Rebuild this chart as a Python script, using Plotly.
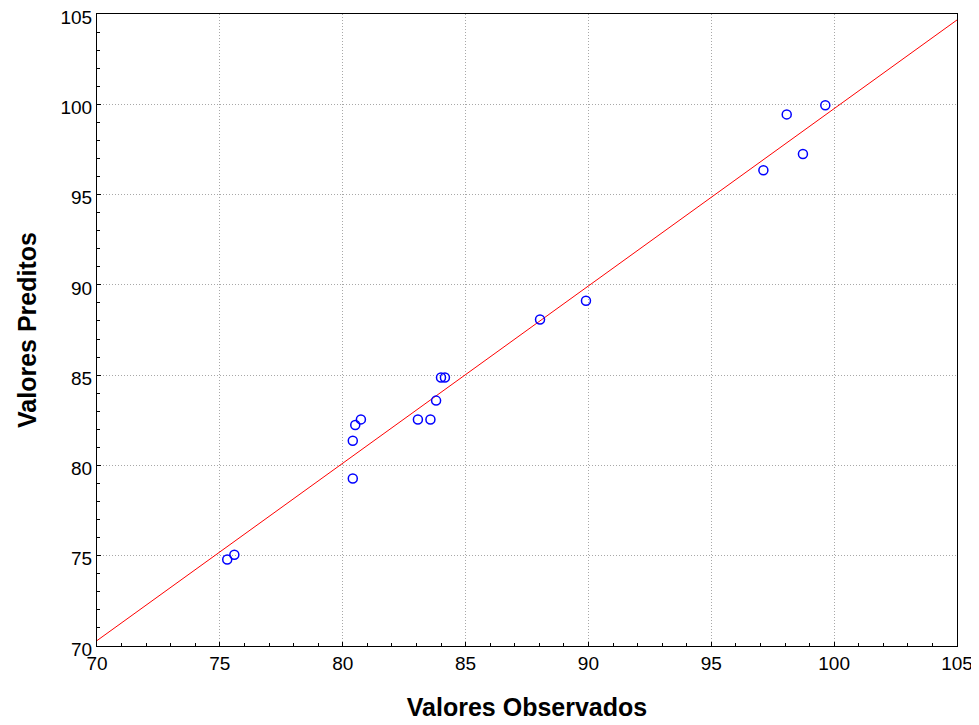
import plotly.graph_objects as go

observados = [75.30, 75.59, 80.41, 80.41, 80.51, 80.74, 83.06, 83.57, 83.80, 84.00, 84.16,
              88.03, 89.90, 97.12, 98.07, 98.73, 99.64]
preditos = [74.79, 75.05, 79.28, 81.37, 82.24, 82.55, 82.54, 82.54, 83.59, 84.87, 84.87,
            88.08, 89.12, 96.35, 99.44, 97.25, 99.95]

linha_x = [70, 105]
linha_y = [70.30, 104.67]

fig = go.Figure()
fig.add_trace(go.Scatter(
    x=linha_x, y=linha_y, mode="lines",
    line=dict(color="#ff0000", width=1), showlegend=False, hoverinfo="skip"))
fig.add_trace(go.Scatter(
    x=observados, y=preditos, mode="markers",
    marker=dict(symbol="circle-open", size=9, color="#0000ff", line=dict(width=1.5, color="#0000ff")),
    showlegend=False))

axis_common = dict(
    showline=True, linecolor="#000000", linewidth=1, mirror=True,
    showgrid=True, gridcolor="#a8a8a8", griddash="1px,2px", gridwidth=1,
    zeroline=False, automargin=False, ticklabeloverflow="allow",
    ticks="inside", ticklen=4, tickcolor="#000000",
    minor=dict(ticks="inside", ticklen=3, tickcolor="#000000", dtick=1, showgrid=False),
    tickfont=dict(family="Liberation Sans, Arial, sans-serif", size=19, color="#000000"),
    dtick=5,
)

fig.update_layout(
    width=971, height=717,
    margin=dict(l=89, r=22, t=6, b=79),
    paper_bgcolor="white", plot_bgcolor="white",
    xaxis=dict(range=[70, 105], tick0=70,
               title=dict(text="Valores Observados", standoff=25,
                          font=dict(family="Liberation Sans, Arial, sans-serif", size=25, color="#000000", weight="bold")),
               **axis_common),
    yaxis=dict(range=[70, 105], tick0=70, ticklabelshift=3,
               title=dict(text="Valores Preditos", standoff=16,
                          font=dict(family="Liberation Sans, Arial, sans-serif", size=25, color="#000000", weight="bold")),
               **axis_common),
)

fig.write_html("out.html")
